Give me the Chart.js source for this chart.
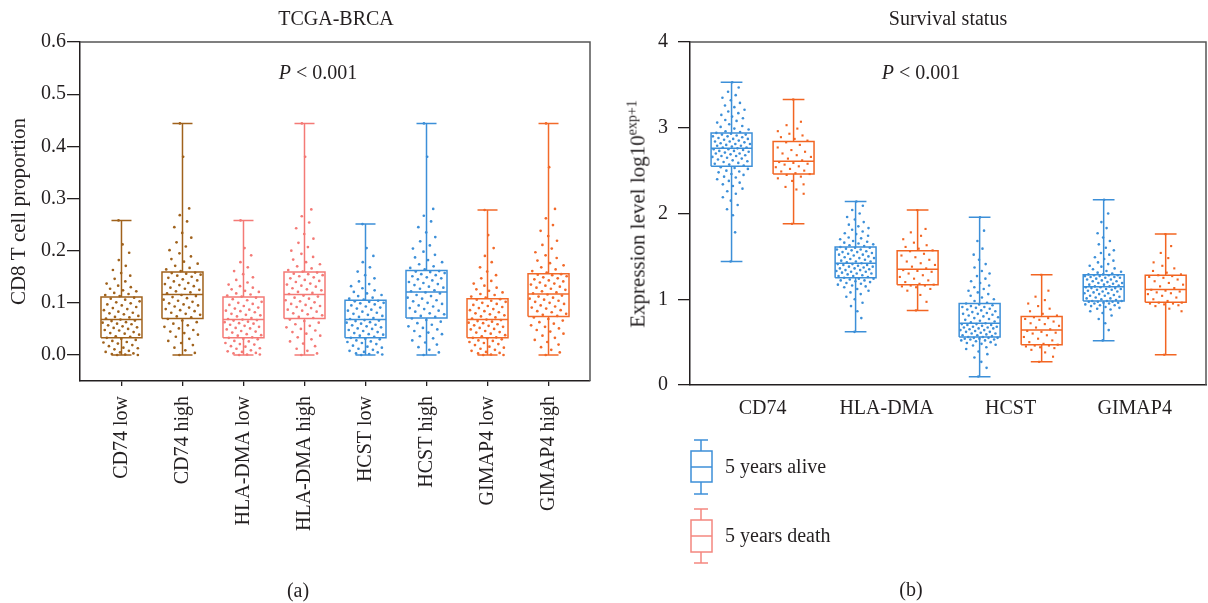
<!DOCTYPE html>
<html><head><meta charset="utf-8">
<script src="https://cdn.jsdelivr.net/npm/chart.js@4.4.0/dist/chart.umd.min.js"></script>
<style>
html,body{margin:0;padding:0;background:#fff;}
body{width:1208px;height:603px;position:relative;overflow:hidden;font-family:"Liberation Serif","DejaVu Serif",serif;color:#231f20;}
canvas{position:absolute;top:0;}
.t{position:absolute;font-size:20px;white-space:nowrap;transform:translate(-50%,-50%);line-height:1;}
.l{position:absolute;font-size:20px;white-space:nowrap;transform:translateY(-50%);line-height:1;}
sup{font-size:14px;vertical-align:0.55em;line-height:0;}
</style></head><body>
<canvas id="c1" width="600" height="603" style="left:0"></canvas>
<canvas id="c2" width="608" height="603" style="left:600px"></canvas>
<div class="t" style="left:336px;top:18px;">TCGA-BRCA</div>
<div class="t" style="left:948px;top:18px;">Survival status</div>
<div class="t" style="left:318px;top:72px;"><i>P</i> &lt; 0.001</div>
<div class="t" style="left:921px;top:72px;"><i>P</i> &lt; 0.001</div>
<div class="t" style="left:638px;top:214px;transform:translate(-50%,-50%) rotate(-90deg);font-size:21px;">Expression level log10<sup>exp+1</sup></div>
<div class="t" style="left:298px;top:590px;">(a)</div>
<div class="t" style="left:911px;top:589px;">(b)</div>
<svg style="position:absolute;left:0;top:0;" width="1208" height="603">
  <g fill="none" stroke="#3c8fd8" stroke-width="1.5">
    <line x1="694" y1="440" x2="708" y2="440"/><line x1="701" y1="440" x2="701" y2="451"/>
    <rect x="691" y="451" width="21" height="31"/><line x1="691" y1="467" x2="712" y2="467"/>
    <line x1="701" y1="482" x2="701" y2="494"/><line x1="694" y1="494" x2="708" y2="494"/>
  </g>
  <g fill="none" stroke="#f4877f" stroke-width="1.5">
    <line x1="694" y1="509" x2="708" y2="509"/><line x1="701" y1="509" x2="701" y2="520"/>
    <rect x="691" y="520" width="21" height="32"/><line x1="691" y1="536" x2="712" y2="536"/>
    <line x1="701" y1="552" x2="701" y2="563"/><line x1="694" y1="563" x2="708" y2="563"/>
  </g>
</svg>
<div class="l" style="left:725px;top:466px;">5 years alive</div>
<div class="l" style="left:725px;top:535px;">5 years death</div>
<script>
// ---------- Panel (a) data ----------
const leftCats = ['CD74 low','CD74 high','HLA-DMA low','HLA-DMA high','HCST low','HCST high','GIMAP4 low','GIMAP4 high'];
const leftMin = [0, 0, 0, 0, 0, 0, 0, 0];
const leftQ1  = [0.033, 0.070, 0.033, 0.070, 0.033, 0.071, 0.033, 0.074];
const leftMed = [0.068, 0.116, 0.068, 0.116, 0.068, 0.121, 0.068, 0.117];
const leftQ3  = [0.111, 0.159, 0.111, 0.159, 0.105, 0.162, 0.108, 0.156];
const leftMax = [0.258, 0.444, 0.258, 0.444, 0.251, 0.444, 0.278, 0.444];
const leftYTicks = [0, 0.1, 0.2, 0.3, 0.4, 0.5, 0.6];

const dotsCD74Low = [0,0,.001,.002,.003,.005,.006,.008,.011,.013,.014,.017,.019,.022,.024,.025,.027,.029,.031,.033,
 .035,.036,.039,.041,.042,.044,.047,.048,.050,.052,.053,.055,.057,.059,.060,.062,.063,.065,.066,.068,
 .070,.072,.073,.075,.078,.080,.081,.083,.086,.088,.090,.092,.095,.097,.099,.101,.103,.106,.108,.110,
 .113,.115,.117,.119,.122,.124,.127,.130,.133,.137,.141,.146,.152,.157,.163,.171,.182,.196,.212,.258];
const dotsCD74High = [0,.004,.009,.014,.019,.023,.027,.031,.035,.039,.042,.045,.048,.051,.054,.057,.060,.063,.066,.069,
 .072,.074,.077,.079,.081,.084,.086,.088,.091,.093,.095,.097,.099,.102,.104,.106,.109,.111,.113,.115,
 .118,.120,.122,.125,.127,.129,.132,.134,.136,.138,.141,.143,.145,.148,.150,.152,.154,.156,.157,.158,
 .161,.164,.167,.171,.175,.179,.184,.189,.195,.201,.208,.216,.225,.234,.245,.256,.268,.281,.38,.444];
const dotsHLALow = [0,.001,.001,.003,.004,.006,.007,.009,.012,.013,.016,.017,.020,.021,.023,.026,.027,.030,.031,.033,
 .034,.037,.038,.040,.043,.045,.046,.049,.051,.052,.054,.056,.058,.060,.061,.063,.064,.066,.067,.068,
 .069,.071,.074,.076,.077,.079,.082,.084,.085,.087,.089,.091,.094,.096,.098,.100,.102,.105,.107,.110,
 .112,.114,.116,.118,.121,.123,.126,.129,.132,.135,.139,.144,.149,.155,.161,.168,.178,.191,.205,.258];
const dotsHLAHigh = [0,.003,.008,.012,.017,.022,.026,.030,.034,.037,.041,.044,.047,.050,.053,.056,.059,.062,.065,.068,
 .071,.073,.076,.078,.080,.083,.085,.087,.090,.092,.094,.096,.098,.101,.103,.105,.108,.110,.112,.114,
 .117,.119,.121,.124,.126,.128,.131,.133,.135,.137,.140,.142,.144,.147,.149,.151,.153,.155,.156,.158,
 .160,.163,.166,.170,.174,.178,.183,.188,.194,.200,.207,.215,.223,.232,.243,.254,.266,.279,.38,.444];
const dotsHCSTLow = [0,.001,.002,.003,.005,.006,.008,.010,.012,.014,.016,.018,.021,.023,.025,.026,.028,.030,.031,.033,
 .035,.037,.039,.040,.042,.044,.046,.048,.050,.051,.053,.055,.057,.058,.060,.062,.063,.065,.066,.067,
 .069,.071,.073,.075,.077,.079,.081,.083,.085,.087,.089,.091,.093,.095,.097,.099,.100,.102,.103,.104,
 .106,.108,.110,.113,.115,.118,.121,.124,.128,.132,.136,.141,.147,.153,.160,.168,.178,.190,.205,.251];
const dotsHCSTHigh = [0,.005,.010,.015,.020,.024,.028,.032,.036,.040,.043,.046,.049,.052,.055,.058,.061,.064,.067,.070,
 .073,.075,.078,.080,.083,.085,.088,.090,.093,.095,.098,.100,.103,.105,.108,.110,.113,.115,.118,.120,
 .122,.124,.127,.129,.131,.134,.136,.138,.140,.143,.145,.147,.149,.151,.153,.155,.157,.159,.160,.161,
 .164,.167,.170,.174,.178,.182,.187,.192,.198,.204,.210,.218,.226,.235,.245,.256,.267,.28,.38,.444];
const dotsGIMAP4Low = [0,0,.001,.003,.004,.006,.008,.010,.012,.014,.016,.019,.021,.023,.025,.027,.028,.030,.032,.033,
 .034,.036,.038,.041,.043,.044,.046,.049,.050,.052,.054,.056,.057,.059,.061,.062,.064,.065,.067,.068,
 .070,.072,.074,.076,.078,.080,.082,.084,.086,.088,.090,.092,.094,.096,.098,.100,.102,.104,.106,.107,
 .110,.112,.115,.117,.120,.123,.126,.129,.133,.137,.142,.147,.153,.160,.168,.178,.190,.205,.23,.278];
const dotsGIMAP4High = [0,.005,.010,.015,.020,.025,.029,.033,.037,.041,.045,.048,.051,.054,.057,.060,.063,.066,.069,.072,
 .075,.077,.079,.082,.084,.086,.089,.091,.093,.095,.098,.100,.102,.104,.106,.108,.110,.112,.114,.116,
 .118,.120,.122,.125,.127,.129,.131,.133,.135,.137,.139,.141,.143,.145,.147,.149,.151,.153,.154,.155,
 .158,.161,.164,.168,.172,.176,.181,.186,.191,.197,.204,.211,.219,.228,.238,.249,.262,.28,.36,.444];
const leftDots = [dotsCD74Low, dotsCD74High, dotsHLALow, dotsHLAHigh, dotsHCSTLow, dotsHCSTHigh, dotsGIMAP4Low, dotsGIMAP4High];

// ---------- Panel (b) data ----------
const rightGenes = ['CD74','HLA-DMA','HCST','GIMAP4'];
const rightSeries = ['5 years alive','5 years death'];
const aliveMin = [1.44, 0.62, 0.097, 0.516];
const aliveQ1  = [2.55, 1.25, 0.56, 0.98];
const aliveMed = [2.76, 1.42, 0.72, 1.146];
const aliveQ3  = [2.94, 1.61, 0.95, 1.285];
const aliveMax = [3.53, 2.14, 1.955, 2.16];
const deathMin = [1.88, 0.87, 0.27, 0.353];
const deathQ1  = [2.46, 1.17, 0.47, 0.964];
const deathMed = [2.61, 1.35, 0.64, 1.115];
const deathQ3  = [2.84, 1.565, 0.80, 1.28];
const deathMax = [3.33, 2.04, 1.285, 1.76];
const rightYTicks = [0, 1, 2, 3, 4];

const aliveCD74 = [1.44,1.78,1.98,2.05,2.10,2.15,2.19,2.23,2.26,2.29,2.32,2.34,2.36,2.38,2.40,2.42,2.43,2.45,2.46,2.48,2.49,2.50,2.52,2.53,2.54,
 2.56,2.57,2.58,2.59,2.60,2.61,2.62,2.63,2.64,2.65,2.66,2.67,2.67,2.68,2.69,2.70,2.70,2.71,2.72,2.73,2.73,2.74,2.75,2.75,2.76,
 2.77,2.77,2.78,2.79,2.79,2.80,2.81,2.81,2.82,2.83,2.84,2.84,2.85,2.86,2.87,2.87,2.88,2.89,2.90,2.90,2.91,2.92,2.92,2.93,2.94,
 2.95,2.96,2.98,2.99,3.01,3.02,3.04,3.06,3.08,3.09,3.11,3.13,3.15,3.17,3.19,3.21,3.24,3.26,3.29,3.32,3.35,3.38,3.42,3.47,3.53];
const deathCD74 = [1.88,2.23,2.28,2.31,2.34,2.38,2.41,2.43,2.45,2.46,2.47,2.49,2.50,2.52,2.54,2.55,2.57,2.58,2.59,2.60,
 2.62,2.64,2.66,2.68,2.70,2.72,2.74,2.77,2.80,2.83,2.85,2.87,2.89,2.91,2.93,2.96,2.99,3.03,3.07,3.33];
const aliveHLA = [.62,.78,.86,.92,.96,1.00,1.03,1.06,1.08,1.10,1.12,1.14,1.15,1.16,1.17,1.18,1.19,1.20,1.21,1.22,1.22,1.23,1.24,1.24,1.25,
 1.26,1.27,1.27,1.28,1.29,1.30,1.30,1.31,1.32,1.32,1.33,1.34,1.34,1.35,1.36,1.36,1.37,1.38,1.38,1.39,1.40,1.40,1.41,1.41,1.42,
 1.43,1.44,1.44,1.45,1.46,1.47,1.48,1.48,1.49,1.50,1.51,1.52,1.52,1.53,1.54,1.55,1.55,1.56,1.57,1.58,1.58,1.59,1.60,1.60,1.61,
 1.62,1.63,1.64,1.65,1.66,1.67,1.68,1.70,1.71,1.72,1.74,1.76,1.77,1.79,1.81,1.83,1.85,1.87,1.90,1.93,1.96,2.00,2.04,2.09,2.14];
const deathHLA = [.87,.97,1.05,1.10,1.12,1.14,1.15,1.16,1.16,1.17,1.18,1.20,1.22,1.24,1.26,1.28,1.30,1.32,1.33,1.34,
 1.36,1.38,1.40,1.42,1.44,1.46,1.49,1.51,1.53,1.56,1.57,1.59,1.61,1.63,1.66,1.70,1.74,1.78,1.82,2.04];
const aliveHCST = [.10,.20,.27,.32,.36,.39,.42,.44,.46,.47,.48,.49,.50,.51,.52,.52,.53,.53,.54,.54,.55,.55,.55,.56,.56,
 .57,.58,.58,.59,.60,.60,.61,.62,.62,.63,.64,.64,.65,.66,.66,.67,.67,.68,.68,.69,.70,.70,.71,.71,.72,
 .73,.74,.75,.76,.77,.78,.79,.80,.81,.82,.83,.83,.84,.85,.86,.87,.88,.89,.90,.91,.91,.92,.93,.94,.95,
 .96,.98,1.00,1.02,1.04,1.06,1.08,1.10,1.12,1.14,1.16,1.19,1.21,1.24,1.27,1.30,1.33,1.37,1.41,1.46,1.52,1.59,1.68,1.80,1.955];
const deathHCST = [.27,.33,.38,.41,.43,.44,.45,.46,.46,.47,.48,.50,.52,.54,.56,.58,.60,.61,.62,.63,
 .65,.67,.69,.71,.72,.74,.76,.77,.78,.79,.81,.83,.86,.89,.92,.95,.99,1.03,1.10,1.285];
const aliveGIMAP4 = [.52,.64,.72,.77,.81,.84,.86,.88,.89,.90,.91,.92,.93,.93,.94,.95,.95,.96,.96,.97,.97,.97,.98,.98,.98,
 .99,1.00,1.01,1.01,1.02,1.03,1.04,1.04,1.05,1.06,1.07,1.07,1.08,1.09,1.09,1.10,1.11,1.11,1.12,1.12,1.13,1.13,1.14,1.14,1.15,
 1.15,1.16,1.17,1.17,1.18,1.19,1.19,1.20,1.21,1.21,1.22,1.23,1.23,1.24,1.25,1.25,1.26,1.26,1.27,1.27,1.28,1.28,1.28,1.29,1.29,
 1.30,1.31,1.32,1.33,1.35,1.36,1.38,1.39,1.41,1.43,1.45,1.47,1.49,1.52,1.54,1.57,1.60,1.64,1.68,1.72,1.77,1.83,1.90,2.00,2.16];
const deathGIMAP4 = [.353,.86,.89,.92,.93,.94,.95,.95,.96,.96,.98,1.00,1.02,1.04,1.06,1.07,1.08,1.09,1.10,1.11,
 1.13,1.15,1.17,1.19,1.21,1.23,1.25,1.26,1.27,1.28,1.29,1.31,1.33,1.36,1.39,1.43,1.48,1.54,1.62,1.76];
const aliveDots = [aliveCD74, aliveHLA, aliveHCST, aliveGIMAP4];
const deathDots = [deathCD74, deathHLA, deathHCST, deathGIMAP4];

// ---------- styling ----------
const FONT = "'Liberation Serif','DejaVu Serif',serif";
const INK = '#231f20';
const leftColors = ['#a0621c','#a0621c','#f47a76','#f47a76','#3c8fd8','#3c8fd8','#f26a2a','#f26a2a'];
const ALIVE = '#3c8fd8', DEATH = '#f26522';

function boxData(i, mn, q1, md, q3, mx, h, c) {
  const gap = {x: i, y: null};
  return [
    {x:i-h,y:q1},{x:i+h,y:q1},{x:i+h,y:q3},{x:i-h,y:q3},{x:i-h,y:q1},gap,
    {x:i-h,y:md},{x:i+h,y:md},gap,
    {x:i,y:q3},{x:i,y:mx},gap,
    {x:i,y:q1},{x:i,y:mn},gap,
    {x:i-c,y:mx},{x:i+c,y:mx},gap,
    {x:i-c,y:mn},{x:i+c,y:mn}
  ];
}
function jitter(vals, center, half) {
  const lo = Math.min(...vals), hi = Math.max(...vals);
  const bw = (hi - lo) / 14;
  const dens = vals.map(v => vals.filter(u => Math.abs(u - v) <= bw).length);
  const dmax = Math.max(...dens);
  return vals.map((v, k) => {
    const w = half * Math.min(1, Math.sqrt(dens[k] / dmax) * 1.2);
    const f = ((k * 0.6180339887 + 0.37) % 1) * 2 - 1;
    return {x: center + w * f, y: v};
  });
}
function boxSet(data, color) {
  return {type:'scatter', showLine:true, data, borderColor:color, borderWidth:1.5, pointRadius:0,
          pointHoverRadius:0, fill:false, spanGaps:false, order:0, borderJoinStyle:'miter', tension:0};
}
function dotSet(data, color, r, style) {
  return {type:'scatter', data, backgroundColor:color, borderColor:color, borderWidth:0,
          pointRadius:r, pointStyle:style || 'circle', pointHoverRadius:r, order:1};
}
const framePlugin = {
  id:'frame',
  afterDraw(chart) {
    const {ctx, chartArea:{left, right, top, bottom}} = chart;
    ctx.save(); ctx.strokeStyle = '#555'; ctx.lineWidth = 1.5;
    ctx.beginPath(); ctx.moveTo(left, top); ctx.lineTo(right, top); ctx.lineTo(right, bottom); ctx.stroke();
    ctx.restore();
  }
};
Chart.defaults.font.family = FONT;
Chart.defaults.color = INK;

// ---------- Chart (a) ----------
const ds1 = [];
leftCats.forEach((c, i) => {
  ds1.push(boxSet(boxData(i, leftMin[i], leftQ1[i], leftMed[i], leftQ3[i], leftMax[i], 0.336, 0.164), leftColors[i]));
  ds1.push(dotSet(jitter(leftDots[i], i, 0.31), leftColors[i], 1.35));
});
new Chart(document.getElementById('c1'), {
  type:'scatter',
  data:{datasets: ds1},
  plugins:[framePlugin],
  options:{
    responsive:false, animation:false, events:[],
    layout:{padding:{left:0, top:42, right:10, bottom:0}},
    plugins:{legend:{display:false}, tooltip:{enabled:false}},
    scales:{
      x:{type:'linear', min:-0.68, max:7.68,
         afterBuildTicks: s => { s.ticks = leftCats.map((_, i) => ({value:i})); },
         afterFit: s => { s.height = 222; },
         ticks:{callback: v => leftCats[Math.round(v)], minRotation:90, maxRotation:90, autoSkip:false,
                padding:10, font:{size:20}, color:INK},
         grid:{drawOnChartArea:false, drawTicks:true, tickLength:5, color:INK, lineWidth:1.3},
         border:{display:true, color:INK, width:1.5}},
      y:{type:'linear', min:-0.0498, max:0.6,
         afterBuildTicks: s => { s.ticks = leftYTicks.map(v => ({value:v})); },
         afterFit: s => { s.width = 80; },
         ticks:{callback: v => v.toFixed(1), padding:1, font:{size:20}, color:INK},
         grid:{drawOnChartArea:false, drawTicks:true, tickLength:13, color:INK, lineWidth:1.3},
         border:{display:true, color:INK, width:1.5},
         title:{display:true, text:'CD8 T cell proportion', font:{size:21}, color:INK, padding:{top:7, bottom:0}}}
    }
  }
});

// ---------- Chart (b) ----------
const ds2 = [];
rightGenes.forEach((g, j) => {
  const a = 2 * j, d = 2 * j + 1;
  ds2.push(boxSet(boxData(a, aliveMin[j], aliveQ1[j], aliveMed[j], aliveQ3[j], aliveMax[j], 0.33, 0.175), ALIVE));
  ds2.push(boxSet(boxData(d, deathMin[j], deathQ1[j], deathMed[j], deathQ3[j], deathMax[j], 0.33, 0.175), DEATH));
  ds2.push(dotSet(jitter(aliveDots[j], a, 0.31), ALIVE, 1.3));
  ds2.push(dotSet(jitter(deathDots[j], d, 0.30), DEATH, 1.5, 'rect'));
});
new Chart(document.getElementById('c2'), {
  type:'scatter',
  data:{datasets: ds2},
  plugins:[framePlugin],
  options:{
    responsive:false, animation:false, events:[],
    layout:{padding:{left:0, top:42, right:2, bottom:0}},
    plugins:{legend:{display:false}, tooltip:{enabled:false}},
    scales:{
      x:{type:'linear', min:-0.67, max:7.65,
         afterBuildTicks: s => { s.ticks = rightGenes.map((_, j) => ({value:2 * j + 0.5})); },
         afterFit: s => { s.height = 218; },
         ticks:{callback: v => rightGenes[Math.round((v - 0.5) / 2)], maxRotation:0, autoSkip:false,
                padding:12, font:{size:20}, color:INK},
         grid:{drawOnChartArea:false, drawTicks:false},
         border:{display:true, color:INK, width:1.5}},
      y:{type:'linear', min:0, max:4,
         afterBuildTicks: s => { s.ticks = rightYTicks.map(v => ({value:v})); },
         afterFit: s => { s.width = 90; },
         ticks:{callback: v => String(v), padding:10, font:{size:20}, color:INK},
         grid:{drawOnChartArea:false, drawTicks:true, tickLength:12, color:INK, lineWidth:1.3},
         border:{display:true, color:INK, width:1.5}}
    }
  }
});
</script>
</body></html>
